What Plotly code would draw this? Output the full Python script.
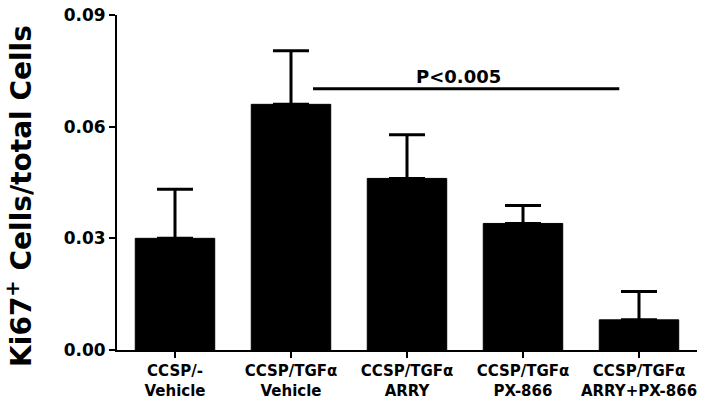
import plotly.graph_objects as go

categories = ["CCSP/-<br>Vehicle", "CCSP/TGFα<br>Vehicle", "CCSP/TGFα<br>ARRY",
              "CCSP/TGFα<br>PX-866", "CCSP/TGFα<br>ARRY+PX-866"]
means = [0.0300, 0.0660, 0.0461, 0.0340, 0.0081]
errors = [0.0132, 0.0144, 0.0117, 0.0048, 0.0076]
y_ticks = [0.00, 0.03, 0.06, 0.09]
y_tick_labels = ["0.00", "0.03", "0.06", "0.09"]
y_title = "Ki67<sup>+</sup> Cells/total Cells"
sig_label = "P<0.005"
sig_y = 0.0702
sig_x0, sig_x1 = 1.19, 3.83

FONT = "DejaVu Sans, Liberation Sans, Arial, sans-serif"

fig = go.Figure()
fig.add_trace(go.Bar(
    x=list(range(len(categories))),
    y=means,
    width=0.685,
    marker=dict(color="black", line=dict(color="black", width=1)),
    error_y=dict(type="data", array=errors, arrayminus=[0]*len(errors),
                 symmetric=False, color="black", thickness=3, width=18),
    showlegend=False,
))

fig.add_shape(type="line", xref="x", yref="y", x0=sig_x0, x1=sig_x1,
              y0=sig_y, y1=sig_y, line=dict(color="black", width=3))
fig.add_annotation(x=(sig_x0 + sig_x1) / 2 - 0.07, y=sig_y, xref="x", yref="y",
                   text="<b>" + sig_label + "</b>", showarrow=False,
                   yanchor="bottom", yshift=0,
                   font=dict(family=FONT, size=18, color="black"))

fig.add_annotation(x=-97/580, y=0.46, xref="paper", yref="paper",
                   text="<b>" + y_title + "</b>", textangle=-90, showarrow=False,
                   xanchor="center", yanchor="middle",
                   font=dict(family=FONT, size=28, color="black"))

fig.update_layout(
    width=713, height=405,
    margin=dict(l=117, r=16, t=15, b=55),
    plot_bgcolor="white", paper_bgcolor="white",
    font=dict(family=FONT, color="black"),
)
fig.update_xaxes(
    range=[-0.5, 4.5], automargin=False,
    tickmode="array", tickvals=list(range(len(categories))),
    ticktext=["<b>" + c.replace("<br>", "</b><br><b>") + "</b>" for c in categories],
    ticks="outside", ticklen=6, tickwidth=2, tickcolor="black",
    showline=True, linecolor="black", linewidth=2,
    showgrid=False, zeroline=False, ticklabeloverflow="allow",
    tickfont=dict(family=FONT, size=15, color="black"),
)
fig.update_yaxes(
    range=[0, 0.09], automargin=False,
    tickmode="array", tickvals=y_ticks, ticktext=["<b>" + t + "</b>" for t in y_tick_labels],
    ticks="outside", ticklen=6, tickwidth=2, tickcolor="black",
    showline=True, linecolor="black", linewidth=2,
    showgrid=False, zeroline=False, ticklabeloverflow="allow",
    tickfont=dict(family=FONT, size=17, color="black"),
)

# remove the browser's default 8px body margin so the figure fills the window
fig.write_html("out.html", config={"displayModeBar": False},
               post_script="document.body.style.margin='0px';")
